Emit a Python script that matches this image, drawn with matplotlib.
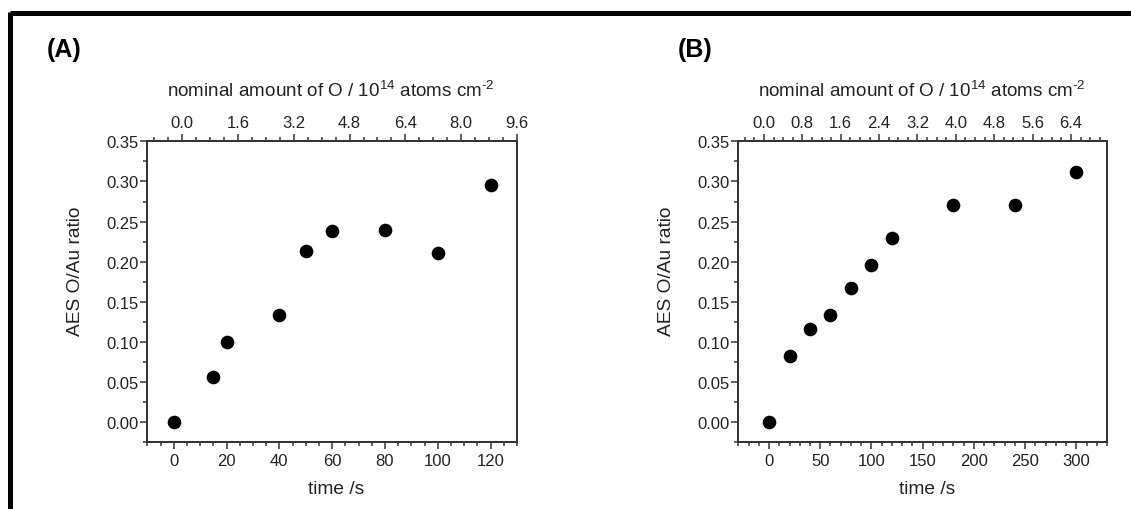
import matplotlib
matplotlib.use("Agg")
import matplotlib.pyplot as plt
from matplotlib.ticker import MultipleLocator, FormatStrFormatter
from matplotlib.lines import Line2D

plt.rcParams['font.family'] = ['Liberation Sans', 'DejaVu Sans']
plt.rcParams['mathtext.fontset'] = 'custom'
plt.rcParams['mathtext.rm'] = 'Liberation Sans'
plt.rcParams['mathtext.it'] = 'Liberation Sans:italic'
plt.rcParams['mathtext.bf'] = 'Liberation Sans:bold'

# ---- data ----
time_a = [0, 15, 20, 40, 50, 60, 80, 100, 120]
ratio_a = [0.000, 0.056, 0.100, 0.133, 0.213, 0.238, 0.240, 0.211, 0.296]

time_b = [0, 20, 40, 60, 80, 100, 120, 180, 240, 300]
ratio_b = [0.000, 0.083, 0.116, 0.134, 0.167, 0.196, 0.229, 0.271, 0.271, 0.312]

panel_labels = ["(A)", "(B)"]
xlabel = "time /s"
ylabel = "AES O/Au ratio"
toplabel = "nominal amount of O / 10$^{\\mathrm{14}}$ atoms cm$^{\u2010\\mathrm{2}}$"

W, H = 1131, 510
fig = plt.figure(figsize=(W / 100, H / 100), dpi=100)

def fx(px):
    return px / W

def fy(py):
    return 1 - py / H

# border lines (top and left)
fig.add_artist(Line2D([fx(10), fx(W)], [fy(14), fy(14)], color='black', lw=3.6,
                      solid_capstyle='butt', transform=fig.transFigure))
fig.add_artist(Line2D([fx(10), fx(10)], [fy(12.5), fy(H)], color='black', lw=3.6,
                      solid_capstyle='butt', transform=fig.transFigure))

spine_col = '#333333'
txt_col = '#222222'

panels = [
    dict(left=147.3, right=517.0, data=(time_a, ratio_a), xlim=(-10, 130),
         xmaj=20, xmin=5, toplim=(-1.0, 9.6), topmaj=1.6, topmin=0.4,
         lab=panel_labels[0], labx=47),
    dict(left=738.3, right=1107.0, data=(time_b, ratio_b), xlim=(-30, 330),
         xmaj=50, xmin=10, toplim=(-0.535, 7.15), topmaj=0.8, topmin=0.2,
         lab=panel_labels[1], labx=678),
]

top_px, bot_px = 142.3, 443.3

for p in panels:
    ax = fig.add_axes([fx(p['left']), fy(bot_px), fx(p['right'] - p['left']),
                       (bot_px - top_px) / H])
    x, y = p['data']
    ax.plot(x, y, 'o', color='black', ms=8.8, clip_on=False, zorder=5)
    ax.set_xlim(*p['xlim'])
    ax.set_ylim(-0.025, 0.35)
    ax.xaxis.set_major_locator(MultipleLocator(p['xmaj']))
    ax.xaxis.set_minor_locator(MultipleLocator(p['xmin']))
    ax.yaxis.set_major_locator(MultipleLocator(0.05))
    ax.yaxis.set_minor_locator(MultipleLocator(0.025))
    ax.yaxis.set_major_formatter(FormatStrFormatter('%.2f'))
    ax.tick_params(axis='both', which='both', direction='out', colors=spine_col,
                   labelcolor=txt_col, labelsize=12, width=1.1)
    ax.tick_params(which='major', length=5)
    ax.tick_params(which='minor', length=3)
    ax.tick_params(axis='x', pad=3)
    ax.tick_params(axis='y', pad=1.5)
    for s in ax.spines.values():
        s.set_color(spine_col)
        s.set_linewidth(1.3)
    ax.yaxis.set_ticks_position('left')
    ax.xaxis.set_ticks_position('bottom')

    ax2 = ax.twiny()
    ax2.set_xlim(*p['toplim'])
    ax2.xaxis.set_major_locator(MultipleLocator(p['topmaj']))
    ax2.xaxis.set_minor_locator(MultipleLocator(p['topmin']))
    ax2.xaxis.set_major_formatter(FormatStrFormatter('%.1f'))
    ax2.tick_params(axis='x', which='both', direction='out', colors=spine_col,
                    labelcolor=txt_col, labelsize=12, width=1.1, pad=3)
    ax2.tick_params(which='major', length=5)
    ax2.tick_params(which='minor', length=3)
    for s in ax2.spines.values():
        s.set_color(spine_col)
        s.set_linewidth(1.3)

    cx = (p['left'] + p['right']) / 2
    fig.text(fx(cx + 4), fy(490), xlabel, ha='center', va='center', fontsize=13.8,
             color=txt_col)
    fig.text(fx(cx - 1), fy(91), toplabel, ha='center', va='center', fontsize=13.6,
             color=txt_col)
    fig.text(fx(p['left'] - 72), fy(271), ylabel, ha='center',
             va='center', rotation=90, fontsize=13.8, color=txt_col)
    fig.text(fx(p['labx']), fy(50), p['lab'], ha='left', va='center',
             fontsize=18, fontweight='bold', color='black')

fig.savefig('out.png', dpi=100)
